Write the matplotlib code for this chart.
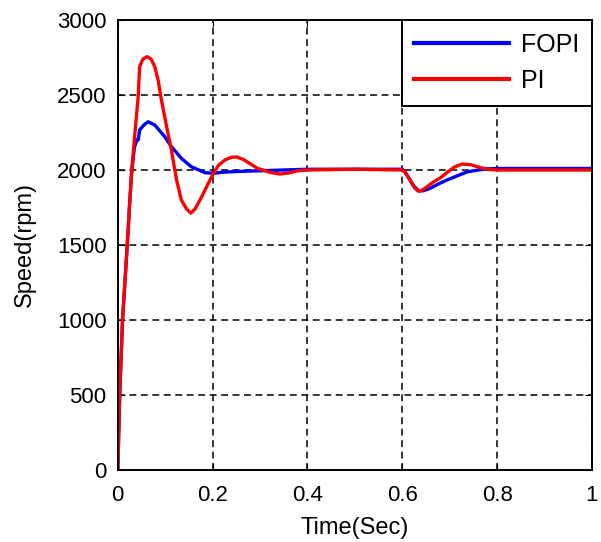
import matplotlib
matplotlib.use('Agg')
from matplotlib import pyplot as plt

plt.rcParams['font.family'] = ['Liberation Sans', 'DejaVu Sans']

# PI controller response
t_pi = [0, 0.004, 0.01, 0.016, 0.021, 0.025, 0.029, 0.036, 0.043, 0.046, 0.053,
        0.062, 0.07, 0.078, 0.085, 0.092, 0.103, 0.113, 0.124, 0.134, 0.145, 0.154,
        0.163, 0.177, 0.198, 0.212, 0.226, 0.24, 0.251, 0.265, 0.28, 0.295,
        0.306, 0.32, 0.342, 0.36, 0.38, 0.4, 0.5, 0.6, 0.605, 0.615, 0.625, 0.633,
        0.642, 0.655, 0.668, 0.68, 0.695, 0.71, 0.726, 0.745, 0.765, 0.785, 0.8, 1.0]
speed_pi = [0, 500, 1000, 1300, 1556, 1778, 1978, 2244, 2489, 2689, 2740,
            2756, 2740, 2689, 2600, 2467, 2289, 2133, 1933, 1800, 1740, 1713,
            1740, 1822, 1956, 2030, 2067, 2085, 2087, 2070, 2040, 2010,
            2000, 1985, 1973, 1980, 1995, 2000, 2005, 2000, 1990, 1940, 1885, 1860,
            1865, 1895, 1925, 1947, 1985, 2020, 2040, 2035, 2015, 2003, 2000, 2000]

# FOPI controller response
t_fopi = [0, 0.004, 0.01, 0.016, 0.021, 0.025, 0.029, 0.035, 0.04, 0.043, 0.046,
          0.055, 0.064, 0.078, 0.099, 0.113, 0.134, 0.155, 0.184, 0.203,
          0.22, 0.25, 0.3, 0.35, 0.4, 0.6, 0.605, 0.615, 0.625, 0.635, 0.645,
          0.66, 0.675, 0.694, 0.715, 0.736, 0.76, 0.78, 0.8, 1.0]
speed_fopi = [0, 500, 1000, 1300, 1556, 1778, 1978, 2150, 2200, 2200, 2267,
              2300, 2322, 2300, 2222, 2156, 2078, 2022, 1982, 1978,
              1985, 1990, 1995, 2000, 2005, 2005, 1990, 1940, 1890, 1860, 1862,
              1880, 1905, 1933, 1960, 1987, 2000, 2008, 2010, 2010]

x_ticks = [0, 0.2, 0.4, 0.6, 0.8, 1]
x_labels = ['0', '0.2', '0.4', '0.6', '0.8', '1']
y_ticks = [0, 500, 1000, 1500, 2000, 2500, 3000]

fig = plt.figure(figsize=(6.01, 5.42), dpi=100)
ax = fig.add_axes([0.196, 0.133, 0.789, 0.830])

ax.plot(t_fopi, speed_fopi, color='#0000ff', lw=2.4, label='FOPI')
ax.plot(t_pi, speed_pi, color='#ff0000', lw=2.4, label='PI')

ax.set_xlim(0, 1)
ax.set_ylim(0, 3000)
ax.set_xticks(x_ticks)
ax.set_xticklabels(x_labels)
ax.set_yticks(y_ticks)
ax.tick_params(direction='in', labelsize=16, length=5, top=True, right=True)
ax.tick_params(axis='x', pad=11)
ax.tick_params(axis='y', pad=8)
ax.grid(True, color='black', linestyle=(0, (4.5, 3)), lw=1.1)
for s in ax.spines.values():
    s.set_linewidth(1.4)

ax.set_xlabel('Time(Sec)', fontsize=17, labelpad=8)
ax.set_ylabel('Speed(rpm)', fontsize=17, labelpad=15)

leg = ax.legend(loc='upper right', fontsize=18, fancybox=False, framealpha=1,
                edgecolor='black', borderaxespad=0, handlelength=3.8,
                handletextpad=0.48, labelspacing=0.5, borderpad=0.5)
leg.get_frame().set_linewidth(1.4)
for line in leg.get_lines():
    line.set_linewidth(3)

fig.savefig('out.png', dpi=100)
